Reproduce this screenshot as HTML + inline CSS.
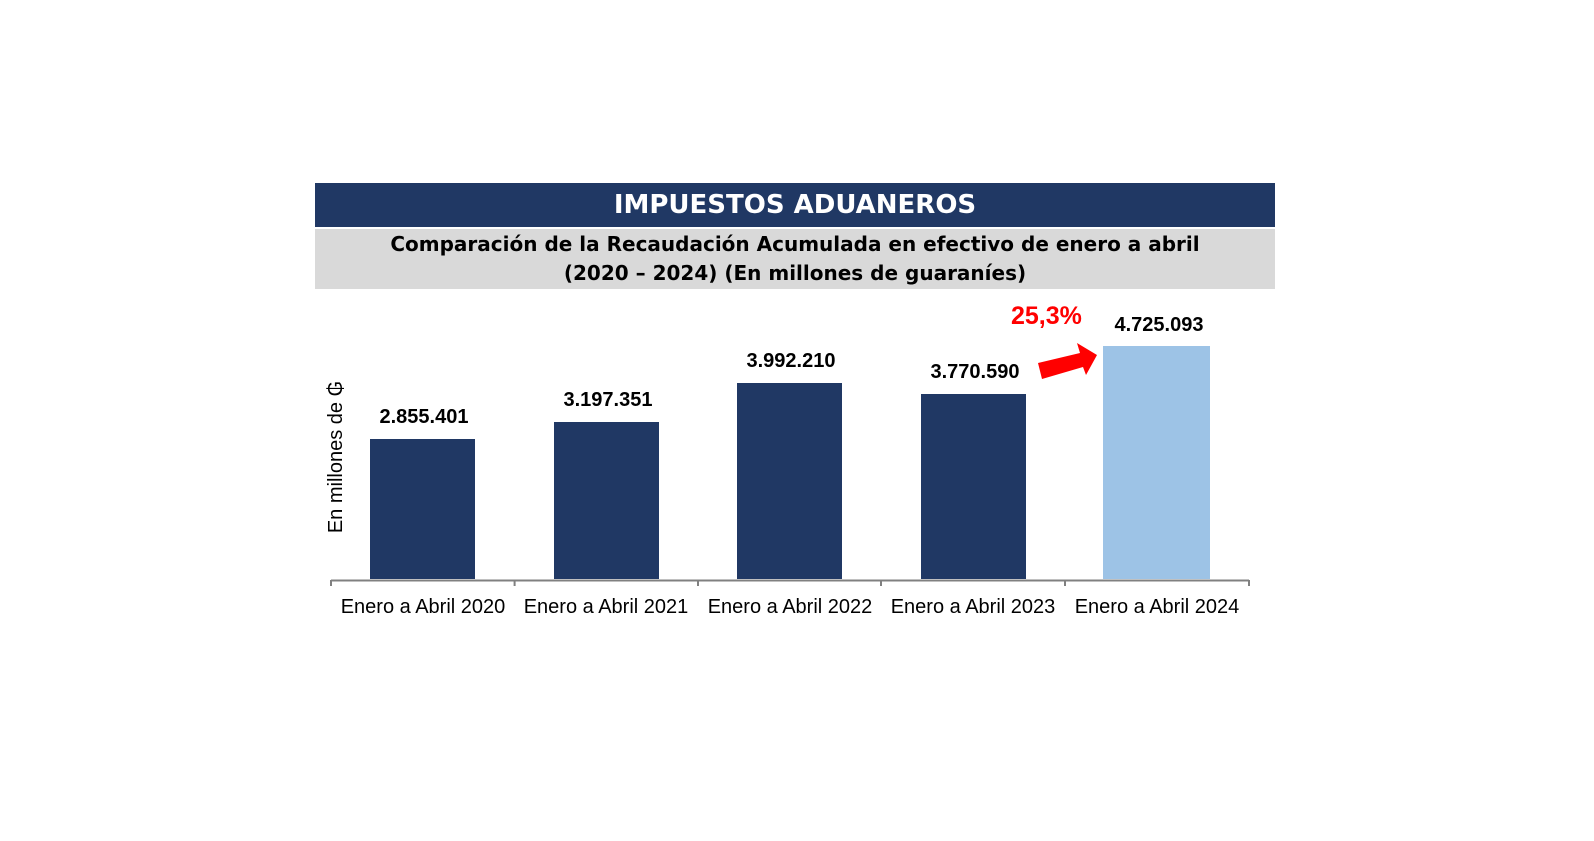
<!DOCTYPE html>
<html><head><meta charset="utf-8"><style>
body{margin:0;background:#fff;width:1594px;height:841px;overflow:hidden;position:relative;font-family:"Liberation Sans",Arial,sans-serif}
.a{position:absolute}
.bar{position:absolute;background:#203864;bottom:262px}
.v{position:absolute;font-weight:bold;font-size:20px;color:#000;width:160px;text-align:center}
.l{position:absolute;font-size:20px;color:#000;width:184px;text-align:center;top:596px}
</style></head><body>
<div class="a" style="left:315px;top:183px;width:960px;height:44px;background:#203864;color:#fff;font-family:'DejaVu Sans',sans-serif;font-weight:bold;font-size:26px;text-align:center;line-height:44px">IMPUESTOS ADUANEROS</div>
<div class="a" style="left:315px;top:229px;width:960px;height:60px;background:#d9d9d9;color:#000;font-family:'DejaVu Sans',sans-serif;font-weight:bold;font-size:20px;text-align:center;line-height:29px;padding-top:1px;box-sizing:border-box">Comparación de la Recaudación Acumulada en efectivo de enero a abril<br>(2020 – 2024) (En millones de guaraníes)</div>
<div class="bar" style="left:370px;top:439px;width:105px;height:140px"></div>
<div class="bar" style="left:554px;top:422px;width:105px;height:157px"></div>
<div class="bar" style="left:737px;top:383px;width:105px;height:196px"></div>
<div class="bar" style="left:921px;top:394px;width:105px;height:185px"></div>
<div class="bar" style="left:1103px;top:346px;width:107px;height:233px;background:#9dc3e6"></div>
<div class="v" style="left:344px;top:406px">2.855.401</div>
<div class="v" style="left:528px;top:389px">3.197.351</div>
<div class="v" style="left:711px;top:350px">3.992.210</div>
<div class="v" style="left:895px;top:361px">3.770.590</div>
<div class="v" style="left:1079px;top:314px">4.725.093</div>
<div class="a" style="left:1011px;top:302px;font-weight:bold;font-size:25px;color:#ff0000">25,3%</div>
<svg class="a" style="left:0;top:0" width="1594" height="841">
<polygon points="1038,363 1080,353 1077,343 1097,355 1086,375 1083,367 1042,379" fill="#ff0000"/>
<line x1="331" y1="580.5" x2="1249" y2="580.5" stroke="#808080" stroke-width="2"/>
<g stroke="#808080" stroke-width="2">
<line x1="331" y1="580" x2="331" y2="586"/><line x1="514.6" y1="580" x2="514.6" y2="586"/><line x1="698" y1="580" x2="698" y2="586"/><line x1="881" y1="580" x2="881" y2="586"/><line x1="1065" y1="580" x2="1065" y2="586"/><line x1="1249" y1="580" x2="1249" y2="586"/>
</g>
<text x="342" y="457" transform="rotate(-90 342 457)" text-anchor="middle" font-family="Liberation Sans,sans-serif" font-size="20" fill="#000">En millones de ₲</text>
</svg>
<div class="l" style="left:331px">Enero a Abril 2020</div>
<div class="l" style="left:514px">Enero a Abril 2021</div>
<div class="l" style="left:698px">Enero a Abril 2022</div>
<div class="l" style="left:881px">Enero a Abril 2023</div>
<div class="l" style="left:1065px">Enero a Abril 2024</div>
</body></html>
